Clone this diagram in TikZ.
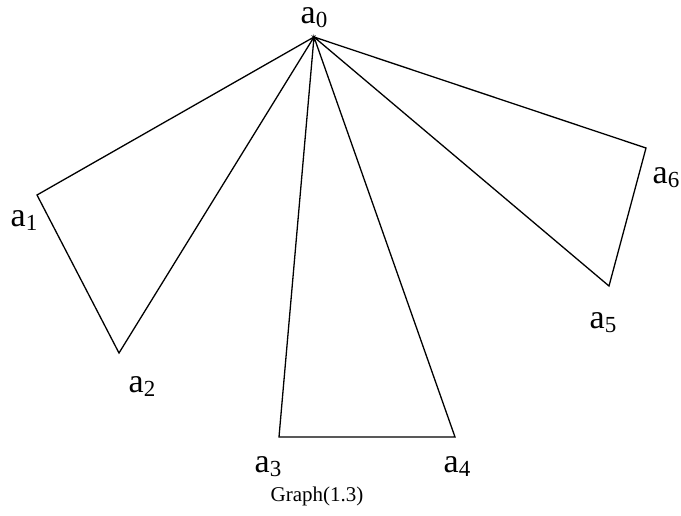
\documentclass[tikz,border=0pt]{standalone}
\usepackage{fontspec}
\setmainfont{Liberation Serif}
\begin{document}
\begin{tikzpicture}[x=1pt,y=-1pt,
  edge/.style={draw=black,line width=1.3pt},
  lbl/.style={font=\fontsize{34}{36}\selectfont,inner sep=0pt,text height=0.5em,text depth=0.1em},
  captxt/.style={font=\fontsize{21}{24}\selectfont,inner sep=0pt}]
\useasboundingbox (0,0) rectangle (681,515);
\coordinate (v0) at (314,37);
\coordinate (v1) at (37,195);
\coordinate (v2) at (119,353);
\coordinate (v3) at (279,437);
\coordinate (v4) at (455,437);
\coordinate (v5) at (609,286);
\coordinate (v6) at (646,148);
\draw[edge] (v0) -- (v1) -- (v2) -- cycle;
\draw[edge] (v0) -- (v3) -- (v4) -- cycle;
\draw[edge] (v0) -- (v5) -- (v6) -- cycle;
\newcommand{\albl}[1]{a\raisebox{-0.12em}{\fontsize{23}{25}\selectfont #1}}
\node[lbl] (l0) at (314,21) {\albl{0}};
\node[lbl] (l1) at (24,224) {\albl{1}};
\node[lbl] (l2) at (142,390) {\albl{2}};
\node[lbl] (l3) at (268,470) {\albl{3}};
\node[lbl] (l4) at (457,470) {\albl{4}};
\node[lbl] (l5) at (603,326) {\albl{5}};
\node[lbl] (l6) at (666,181) {\albl{6}};
\node[captxt] (g) at (317,496) {Graph(1.3)};
\end{tikzpicture}
\end{document}
